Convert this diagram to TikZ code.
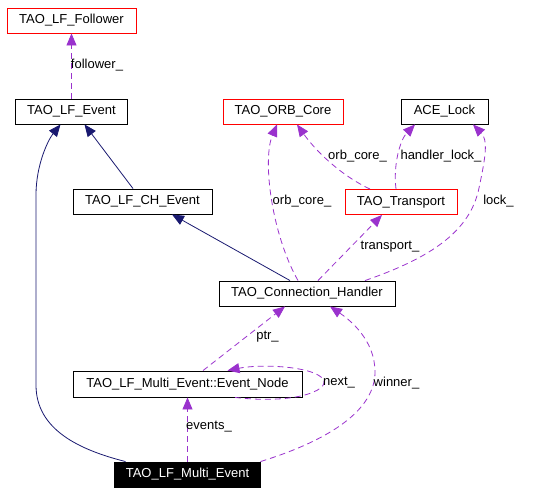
\documentclass[tikz,border=0pt]{standalone}
\usepackage{fontspec}
\setmainfont{Liberation Sans}
\usetikzlibrary{arrows.meta}
\definecolor{edgepurple}{HTML}{9A32CD}
\definecolor{edgenavy}{HTML}{191970}
\begin{document}
\begin{tikzpicture}[x=1bp,y=-1bp,
  box/.style={draw=black,line width=0.9bp,inner sep=0pt,minimum height=25bp,font=\fontsize{13bp}{15bp}\selectfont,anchor=center},
  redbox/.style={box,draw=red},
  mainbox/.style={box,fill=black,text=white},
  usage/.style={draw=edgepurple,line width=0.8bp,dash pattern=on 6bp off 4bp,-{Triangle[length=12bp,width=10bp]}},
  inherit/.style={draw=edgenavy,line width=0.8bp,-{Triangle[length=12bp,width=10bp]}},
  lbl/.style={font=\fontsize{13bp}{15bp}\selectfont,inner sep=0pt,anchor=center}]
\useasboundingbox (0,0) rectangle (541,493);
% nodes
\node[redbox,minimum width=129bp] (follower) at (71.5,20.5) {TAO\_LF\_Follower};
\node[box,minimum width=112bp] (lfevent) at (71.5,111.5) {TAO\_LF\_Event};
\node[box,minimum width=139bp] (chevent) at (142.5,201.5) {TAO\_LF\_CH\_Event};
\node[redbox,minimum width=120bp] (orbcore) at (283,111.5) {TAO\_ORB\_Core};
\node[box,minimum width=87bp] (acelock) at (444.5,111.5) {ACE\_Lock};
\node[redbox,minimum width=112bp] (transport) at (401,202) {TAO\_Transport};
\node[box,minimum width=176bp] (connh) at (307,293.5) {TAO\_Connection\_Handler};
\node[box,minimum width=229bp,minimum height=26bp] (evnode) at (187.5,384) {TAO\_LF\_Multi\_Event::Event\_Node};
\node[mainbox,minimum width=146bp] (multi) at (187.5,474.5) {TAO\_LF\_Multi\_Event};
% edges
\draw[usage] (lfevent.north) -- (lfevent.north |- follower.south);
\node[lbl] (lfollower) at (97,65) {follower\_};
\draw[inherit] ([xshift=-9.5bp]chevent.north) -- ([xshift=13bp]lfevent.south);
\draw[inherit] ([xshift=-62bp]multi.north) .. controls (80,450) and (36,430) .. (36,385)
  -- (36,195) .. controls (36,165) and (48,140) .. ([xshift=-11bp]lfevent.south);
\draw[inherit] ([xshift=-17bp]connh.north) -- ([xshift=29.5bp]chevent.south);
\draw[usage] ([xshift=-9bp]connh.north) .. controls (272,235) and (262,160) .. ([xshift=-6bp]orbcore.south);
\node[lbl] (lorb1) at (302,201) {orb\_core\_};
\draw[usage] ([xshift=-31bp]transport.north) .. controls (340,175) and (315,150) .. ([xshift=14bp]orbcore.south);
\node[lbl] (lorb2) at (357.5,156) {orb\_core\_};
\draw[usage] ([xshift=-5bp]transport.north) .. controls (393,165) and (400,140) .. ([xshift=-29.5bp]acelock.south);
\node[lbl] (lhlock) at (441,156) {handler\_lock\_};
\draw[usage] ([xshift=58bp]connh.north) .. controls (430,258) and (470,232) .. (479,188)
  .. controls (486,155) and (488,140) .. ([xshift=28.5bp]acelock.south);
\node[lbl] (llock) at (498.5,201) {lock\_};
\draw[usage] ([xshift=11bp]connh.north) -- ([xshift=-19bp]transport.south);
\node[lbl] (ltransport) at (390,247) {transport\_};
\draw[usage] ([xshift=15.5bp]evnode.north) -- ([xshift=-22bp]connh.south);
\node[lbl] (lptr) at (267.5,337) {ptr\_};
\draw[usage] ([xshift=47.5bp]evnode.south) .. controls (300,405) and (335,388) .. (321,377)
  .. controls (308,366) and (260,364) .. ([xshift=40bp]evnode.north);
\node[lbl] (lnext) at (339,383) {next\_};
\draw[usage] (multi.north) -- (multi.north |- evnode.south);
\node[lbl] (levents) at (209,427) {events\_};
\draw[usage] ([xshift=73bp]multi.north) .. controls (330,440) and (375,410) .. (375,372)
  .. controls (375,340) and (350,320) .. ([xshift=23bp]connh.south);
\node[lbl] (lwinner) at (396.5,383) {winner\_};
\end{tikzpicture}
\end{document}
